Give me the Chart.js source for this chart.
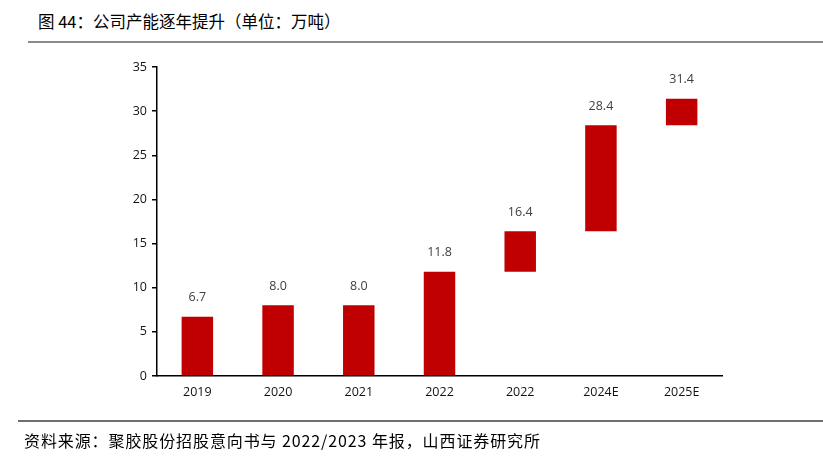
<!DOCTYPE html>
<html>
<head>
<meta charset="utf-8">
<script src="https://cdn.jsdelivr.net/npm/chart.js@4"></script>
<style>
    body { margin:0; background:#fff; }
    #wrap { position:relative; width:823px; height:456px; overflow:hidden; }
    #titulo { position:absolute; left:38px; top:9px; font:16.5px "Noto Sans CJK SC", sans-serif; color:#000; }
    #linea1 { position:absolute; left:28px; top:41px; width:795px; height:2px; background:#8c8c8c; }
    #linea2 { position:absolute; left:18px; top:420px; width:805px; height:2px; background:#6e6e6e; }
    #fuente { position:absolute; left:24px; top:428px; font:16px "Noto Sans CJK SC", serif; letter-spacing:0.9px; color:#000; }
    #grafica { position:absolute; left:0; top:0; }
</style>
</head>
<body>
<div id="wrap">
    <div id="titulo">图 44：公司产能逐年提升（单位：万吨）</div>
    <div id="linea1"></div>
    <canvas id="grafica" width="823" height="456"></canvas>
    <div id="linea2"></div>
    <div id="fuente">资料来源：聚胶股份招股意向书与 2022/2023 年报，山西证券研究所</div>
</div>
<script>
var categorias = ['2019', '2020', '2021', '2022', '2022', '2024E', '2025E'];
var inicio = [0, 0, 0, 0, 11.8, 16.4, 28.4];
var fin = [6.7, 8.0, 8.0, 11.8, 16.4, 28.4, 31.4];
var ticksY = [0, 5, 10, 15, 20, 25, 30, 35];

var barras = [];
for (var i = 0; i < fin.length; i++) {
    barras.push([inicio[i], fin[i]]);
}

var etiquetas = {
    id: 'etiquetas',
    afterDatasetsDraw: function (chart) {
        var ctx = chart.ctx;
        var meta = chart.getDatasetMeta(0);
        ctx.save();
        ctx.font = '12.5px "Open Sans", sans-serif';
        ctx.fillStyle = '#404040';
        ctx.textAlign = 'center';
        ctx.textBaseline = 'middle';
        meta.data.forEach(function (barra, i) {
            ctx.fillText(fin[i].toFixed(1), barra.x, barra.y - 19);
        });
        ctx.restore();
    }
};

new Chart(document.getElementById('grafica').getContext('2d'), {
    type: 'bar',
    data: {
        labels: categorias,
        datasets: [{
            data: barras,
            backgroundColor: '#C00000',
            borderSkipped: false,
            barPercentage: 0.39,
            categoryPercentage: 1
        }]
    },
    options: {
        responsive: false,
        animation: false,
        layout: { padding: { left: 100, right: 101, top: 67, bottom: 0 } },
        plugins: { legend: { display: false }, tooltip: { enabled: false } },
        scales: {
            x: {
                grid: { display: false, drawTicks: false },
                border: { display: true, color: '#000', width: 1.5 },
                ticks: { padding: 9, color: '#111', font: { family: '"Open Sans", sans-serif', size: 12.5 } },
                afterFit: function (s) { s.height = 80; }
            },
            y: {
                min: 0,
                max: 35,
                afterBuildTicks: function (s) { s.ticks = ticksY.map(function (v) { return { value: v }; }); },
                grid: { drawOnChartArea: false, drawTicks: true, tickLength: 5, color: '#000', lineWidth: 1.5 },
                border: { display: true, color: '#000', width: 1.5 },
                ticks: { padding: 5, color: '#111', font: { family: '"Open Sans", sans-serif', size: 12.5 } },
                afterFit: function (s) { s.width = 57; }
            }
        }
    },
    plugins: [etiquetas]
});
</script>
</body>
</html>
